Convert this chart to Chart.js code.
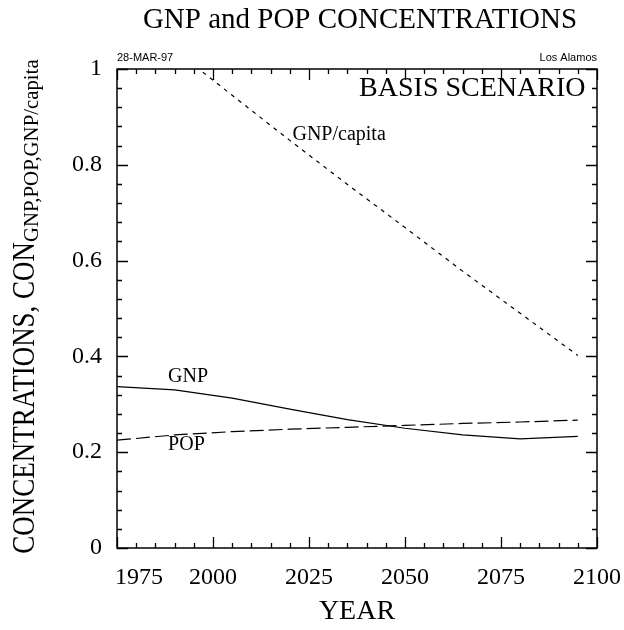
<!DOCTYPE html>
<html>
<head>
<meta charset="utf-8">
<script src="https://cdn.jsdelivr.net/npm/chart.js@4.4.1/dist/chart.umd.min.js"></script>
<style>
  html, body { margin: 0; padding: 0; background: #ffffff; }
  #wrap { width: 624px; height: 630px; }
</style>
</head>
<body>
<div id="wrap"><canvas id="c" width="624" height="630"></canvas></div>
<script>
// ---- data ----
const years = [1975, 1990, 2005, 2020, 2035, 2050, 2065, 2080, 2095];
const gnp = [0.337, 0.330, 0.313, 0.290, 0.268, 0.250, 0.236, 0.228, 0.233];
const pop = [0.225, 0.236, 0.243, 0.248, 0.252, 0.256, 0.260, 0.263, 0.267];
const gnpPerCapita = [null, 1.040, 0.945, 0.851, 0.759, 0.669, 0.578, 0.490, 0.402];

const xTickValues = [1975, 2000, 2025, 2050, 2075, 2100];
const xTickLabels = ['1975', '2000', '2025', '2050', '2075', '2100'];
const yTickValues = [0, 0.2, 0.4, 0.6, 0.8, 1];
const yTickLabels = ['0', '0.2', '0.4', '0.6', '0.8', '1'];

const titleText = 'GNP and POP CONCENTRATIONS';
const xTitle = 'YEAR';
const yTitleMain = 'CONCENTRATIONS, CON';
const yTitleSub = 'GNP,POP,GNP/capita';
const scenarioText = 'BASIS SCENARIO';
const dateText = '28-MAR-97';
const siteText = 'Los Alamos';
const seriesNames = ['GNP', 'POP', 'GNP/capita'];

const SERIF = '"Liberation Serif", "Times New Roman", serif';
const SANS = '"Liberation Sans", Arial, sans-serif';

function pts(vals) {
  return years.map((y, i) => ({ x: y, y: vals[i] }));
}

function drawText(ctx, s, x, y, size, family, align, baseline, sx) {
  sx = sx || 1;
  ctx.save();
  ctx.font = size + 'px ' + family;
  ctx.textAlign = align;
  ctx.textBaseline = baseline;
  ctx.fillStyle = '#000';
  ctx.translate(x, y);
  ctx.scale(sx, 1);
  ctx.fillText(s, 0, 0);
  ctx.restore();
}

const framePlugin = {
  id: 'frame',
  afterDraw(chart) {
    const ctx = chart.ctx;
    const a = chart.chartArea;
    const xs = chart.scales.x, ys = chart.scales.y;
    ctx.save();
    // frame
    ctx.strokeStyle = '#000';
    ctx.lineWidth = 1.5;
    ctx.strokeRect(a.left, a.top, a.right - a.left, a.bottom - a.top);
    // inward ticks, x (every 5 years; long every 25)
    ctx.lineWidth = 1.3;
    ctx.beginPath();
    for (let yr = 1975; yr <= 2100; yr += 5) {
      const px = Math.round(xs.getPixelForValue(yr)) + 0.5;
      const major = (yr - 1975) % 25 === 0;
      const len = major ? 11 : 5;
      ctx.moveTo(px, a.bottom); ctx.lineTo(px, a.bottom - len);
      ctx.moveTo(px, a.top); ctx.lineTo(px, a.top + len);
    }
    // inward ticks, y (every 0.04; long every 0.2)
    for (let k = 0; k <= 25; k++) {
      const py = Math.round(ys.getPixelForValue(k * 0.04)) + 0.5;
      const major = k % 5 === 0;
      const len = major ? 11 : 5;
      ctx.moveTo(a.left, py); ctx.lineTo(a.left + len, py);
      ctx.moveTo(a.right, py); ctx.lineTo(a.right - len, py);
    }
    ctx.stroke();
    ctx.restore();

    // first x tick label, shifted right off the y axis as in the reference
    drawText(ctx, xTickLabels[0], xs.getPixelForValue(xTickValues[0]) - 2, 578, 24, SERIF, 'left', 'middle');

    // title
    drawText(ctx, titleText, 360, 20, 29, SERIF, 'center', 'middle');
    // date / site
    drawText(ctx, dateText, a.left, 58, 11, SANS, 'left', 'middle');
    drawText(ctx, siteText, a.right, 58, 11, SANS, 'right', 'middle');
    // scenario
    drawText(ctx, scenarioText, xs.getPixelForValue(2097), ys.getPixelForValue(0.958), 28, SERIF, 'right', 'middle');
    // series labels
    drawText(ctx, seriesNames[0], xs.getPixelForValue(1988.3), ys.getPixelForValue(0.357), 20, SERIF, 'left', 'middle');
    drawText(ctx, seriesNames[1], xs.getPixelForValue(1988.3), ys.getPixelForValue(0.215), 20, SERIF, 'left', 'middle');
    drawText(ctx, seriesNames[2], xs.getPixelForValue(2020.7), ys.getPixelForValue(0.862), 20, SERIF, 'left', 'middle');
    // x title
    drawText(ctx, xTitle, (a.left + a.right) / 2, 612, 28, SERIF, 'center', 'middle');

    // y title with subscript, rotated
    ctx.save();
    const cy = (a.top + a.bottom) / 2;
    ctx.translate(34, cy);
    ctx.rotate(-Math.PI / 2);
    const mainSize = 31, subSize = 20, mainSx = 0.87, subSx = 1.04;
    ctx.font = mainSize + 'px ' + SERIF;
    const wM = ctx.measureText(yTitleMain).width * mainSx;
    ctx.font = subSize + 'px ' + SERIF;
    const wS = ctx.measureText(yTitleSub).width * subSx;
    const start = -(wM + wS) / 2 + 2;
    drawText(ctx, yTitleMain, start, 0, mainSize, SERIF, 'left', 'alphabetic', mainSx);
    drawText(ctx, yTitleSub, start + wM, 4, subSize, SERIF, 'left', 'alphabetic', subSx);
    ctx.restore();
  }
};

const ctx = document.getElementById('c').getContext('2d');
new Chart(ctx, {
  type: 'line',
  data: {
    datasets: [
      { label: seriesNames[0], data: pts(gnp), borderColor: '#000', borderWidth: 1.2, pointRadius: 0, tension: 0, fill: false },
      { label: seriesNames[1], data: pts(pop), borderColor: '#000', borderWidth: 1.2, borderDash: [14, 5], pointRadius: 0, tension: 0, fill: false },
      { label: seriesNames[2], data: pts(gnpPerCapita), borderColor: '#000', borderWidth: 1.2, borderDash: [4, 5], pointRadius: 0, tension: 0, fill: false }
    ]
  },
  options: {
    responsive: false,
    animation: false,
    devicePixelRatio: 1,
    layout: { padding: { left: 0, right: 27, top: 69, bottom: 0 } },
    plugins: { legend: { display: false }, tooltip: { enabled: false }, title: { display: false } },
    scales: {
      x: {
        type: 'linear', min: 1975, max: 2100,
        afterFit: s => { s.height = 82; s.paddingLeft = 0; s.paddingRight = 0; },
        afterBuildTicks: s => { s.ticks = xTickValues.map(v => ({ value: v })); },
        grid: { display: false, drawTicks: false },
        border: { display: false },
        ticks: {
          autoSkip: false, maxRotation: 0, padding: 15, color: '#000',
          font: { family: SERIF, size: 24 },
          callback: v => { const i = xTickValues.indexOf(v); return i <= 0 ? '' : xTickLabels[i]; }
        }
      },
      y: {
        min: 0, max: 1,
        afterFit: s => { s.width = 117; s.paddingTop = 0; s.paddingBottom = 0; },
        afterBuildTicks: s => { s.ticks = yTickValues.map(v => ({ value: v })); },
        grid: { display: false, drawTicks: false },
        border: { display: false },
        ticks: {
          padding: 15, color: '#000',
          font: { family: SERIF, size: 24 },
          callback: v => { const i = yTickValues.findIndex(t => Math.abs(t - v) < 1e-9); return i < 0 ? '' : yTickLabels[i]; }
        }
      }
    }
  },
  plugins: [framePlugin]
});
</script>
</body>
</html>
